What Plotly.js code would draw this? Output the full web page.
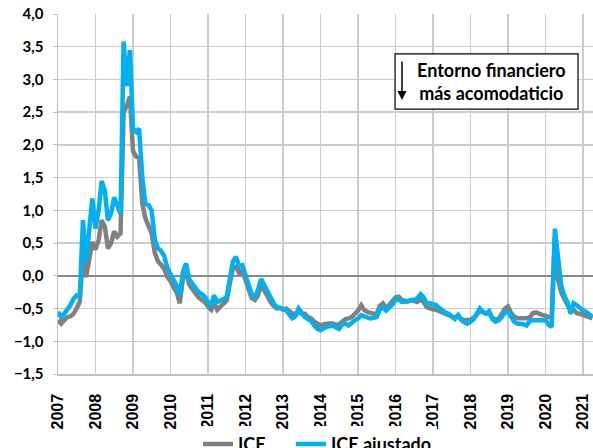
<!DOCTYPE html>
<html>
<head>
<meta charset="utf-8">
<script src="https://cdn.plot.ly/plotly-3.0.1.min.js"></script>
<style>html,body{margin:0;padding:0;background:#fff;}#chart{width:593px;height:448px;}</style>
</head>
<body>
<div id="chart"></div>
<script>
// Monthly series, starting January 2007
var startYear = 2007;
var seriesNames = ["ICE", "ICE ajustado"];

var ice = [
  -0.68, -0.73, -0.68, -0.63, -0.62, -0.58, -0.50, -0.40, 0.30, -0.02, 0.25, 0.52,
  0.40, 0.55, 0.85, 0.75, 0.42, 0.50, 0.68, 0.60, 0.65, 2.50, 2.60, 2.74,
  1.90, 1.82, 1.80, 1.10, 0.88, 0.78, 0.65, 0.35, 0.22, 0.17, 0.10, -0.02,
  -0.08, -0.18, -0.25, -0.42, -0.05, 0.08, -0.13, -0.20, -0.27, -0.33, -0.37, -0.40,
  -0.47, -0.52, -0.42, -0.52, -0.47, -0.42, -0.38, -0.12, 0.12, 0.14, 0.04, 0.08,
  -0.06, -0.22, -0.34, -0.37, -0.30, -0.13, -0.23, -0.31, -0.40, -0.46, -0.50, -0.49,
  -0.52, -0.50, -0.55, -0.58, -0.58, -0.55, -0.58, -0.58, -0.63, -0.65, -0.70, -0.73,
  -0.76, -0.74, -0.73, -0.73, -0.73, -0.75, -0.74, -0.70, -0.66, -0.65, -0.63, -0.58,
  -0.53, -0.45, -0.52, -0.55, -0.57, -0.58, -0.58, -0.46, -0.42, -0.50, -0.44, -0.39,
  -0.33, -0.32, -0.37, -0.38, -0.39, -0.37, -0.39, -0.40, -0.36, -0.40, -0.48, -0.50,
  -0.51, -0.52, -0.54, -0.55, -0.58, -0.60, -0.62, -0.64, -0.61, -0.66, -0.68, -0.68,
  -0.67, -0.64, -0.60, -0.53, -0.56, -0.57, -0.57, -0.64, -0.67, -0.66, -0.58, -0.50,
  -0.47, -0.57, -0.62, -0.65, -0.65, -0.65, -0.65, -0.63, -0.57, -0.56, -0.59, -0.60,
  -0.61, -0.63, -0.62, 0.60, -0.05, -0.25, -0.35, -0.45, -0.53, -0.52, -0.57, -0.58,
  -0.60, -0.61, -0.62, -0.65
];

var iceAjustado = [
  -0.55, -0.63, -0.58, -0.52, -0.45, -0.35, -0.30, -0.32, 0.85, 0.20, 0.65, 1.18,
  0.72, 1.00, 1.45, 1.30, 0.85, 0.95, 1.20, 1.05, 0.95, 3.58, 2.90, 3.45,
  2.25, 2.20, 2.25, 1.50, 1.10, 1.08, 1.00, 0.55, 0.42, 0.38, 0.30, 0.12,
  0.02, -0.08, -0.15, -0.30, 0.05, 0.19, -0.05, -0.12, -0.18, -0.25, -0.28, -0.32,
  -0.40, -0.45, -0.30, -0.40, -0.38, -0.35, -0.33, -0.05, 0.22, 0.29, 0.14, 0.16,
  0.02, -0.14, -0.28, -0.32, -0.22, -0.05, -0.15, -0.24, -0.35, -0.42, -0.48, -0.49,
  -0.50, -0.53, -0.58, -0.65, -0.62, -0.50, -0.56, -0.63, -0.66, -0.69, -0.76, -0.81,
  -0.83, -0.80, -0.78, -0.77, -0.76, -0.79, -0.81, -0.74, -0.73, -0.76, -0.71, -0.68,
  -0.65, -0.60, -0.62, -0.63, -0.65, -0.64, -0.63, -0.52, -0.48, -0.53, -0.49, -0.44,
  -0.37, -0.36, -0.40, -0.40, -0.39, -0.37, -0.37, -0.34, -0.28, -0.33, -0.42, -0.42,
  -0.44, -0.45, -0.49, -0.53, -0.56, -0.58, -0.63, -0.66, -0.60, -0.67, -0.71, -0.73,
  -0.70, -0.66, -0.58, -0.50, -0.55, -0.58, -0.54, -0.66, -0.70, -0.68, -0.63, -0.56,
  -0.55, -0.64, -0.70, -0.73, -0.73, -0.74, -0.76, -0.69, -0.68, -0.68, -0.67, -0.67,
  -0.68, -0.75, -0.78, 0.72, 0.24, -0.15, -0.30, -0.40, -0.58, -0.42, -0.45, -0.50,
  -0.53, -0.55, -0.58, -0.63
];

var boxText = "Entorno financiero<br>más acomodaticio";

// month dates
var dates = [];
for (var i = 0; i < ice.length; i++) {
  var y = startYear + Math.floor(i / 12);
  var m = (i % 12) + 1;
  dates.push(y + "-" + (m < 10 ? "0" + m : m) + "-01");
}

var calib = "Lato, 'Open Sans', sans-serif";
var legendFont = {family: calib, size: 18, color: "#000", weight: "bold"};

var traces = [
  {x: dates, y: ice, name: seriesNames[0], type: "scatter", mode: "lines",
   line: {color: "#808080", width: 4.5}, legend: "legend"},
  {x: dates, y: iceAjustado, name: seriesNames[1], type: "scatter", mode: "lines",
   line: {color: "#00b0f0", width: 4.5}, legend: "legend2"}
];

var layout = {
  width: 593, height: 448,
  margin: {l: 58, r: 0, t: 14, b: 74, autoexpand: false},
  paper_bgcolor: "#ffffff", plot_bgcolor: "#ffffff",
  separators: ", ",
  showlegend: true,
  legend: {orientation: "h", x: (198 - 58) / 535, xanchor: "left", y: -0.195, yanchor: "middle",
           font: legendFont, itemwidth: 30},
  legend2: {orientation: "h", x: (291 - 58) / 535, xanchor: "left", y: -0.195, yanchor: "middle",
           font: legendFont, itemwidth: 30},
  xaxis: {
    type: "date",
    range: ["2007-01-01", "2021-04-07"],
    tick0: "2007-01-01", dtick: "M12", tickformat: "%Y",
    tickangle: -90,
    tickfont: {family: "'Liberation Sans', Arial, sans-serif", size: 16, color: "#000", weight: "bold"},
    showgrid: true, gridcolor: "#cccccc", gridwidth: 1.5,
    showline: true, linecolor: "#bfbfbf", linewidth: 1.5,
    ticks: "", ticklabelstandoff: 12, automargin: false,
    zeroline: false, fixedrange: true
  },
  yaxis: {
    range: [-1.5, 4.0], dtick: 0.5, tick0: 0, tickformat: ".1f",
    tickfont: {family: calib, size: 15, color: "#000", weight: "bold"},
    showgrid: true, gridcolor: "#cccccc", gridwidth: 1.5,
    showline: true, linecolor: "#bfbfbf", linewidth: 1.5,
    zeroline: true, zerolinecolor: "#888888", zerolinewidth: 1.5,
    ticks: "outside", ticklen: 4, tickcolor: "#bfbfbf", ticklabelstandoff: 6,
    automargin: false, fixedrange: true
  },
  shapes: [
    {type: "rect", xref: "paper", yref: "paper", x0: 0.630, x1: 0.972, y0: 0.736, y1: 0.889,
     line: {color: "#000", width: 1.2}, fillcolor: "#ffffff", layer: "above"}
  ],
  annotations: [
    {xref: "paper", yref: "paper", x: 0.811, y: 0.8125, xanchor: "center", yanchor: "middle",
     text: boxText, showarrow: false,
     font: {family: calib, size: 18, color: "#000", weight: "bold"}, align: "center"},
    {xref: "paper", yref: "paper", x: (402 - 58) / 535, y: (374 - 100) / 360, text: "",
     showarrow: true, ax: 0, ay: -40, arrowhead: 2, arrowsize: 1.2, arrowwidth: 1.5, arrowcolor: "#000"}
  ]
};

Plotly.newPlot("chart", traces, layout, {displayModeBar: false, staticPlot: true});
</script>
</body>
</html>
